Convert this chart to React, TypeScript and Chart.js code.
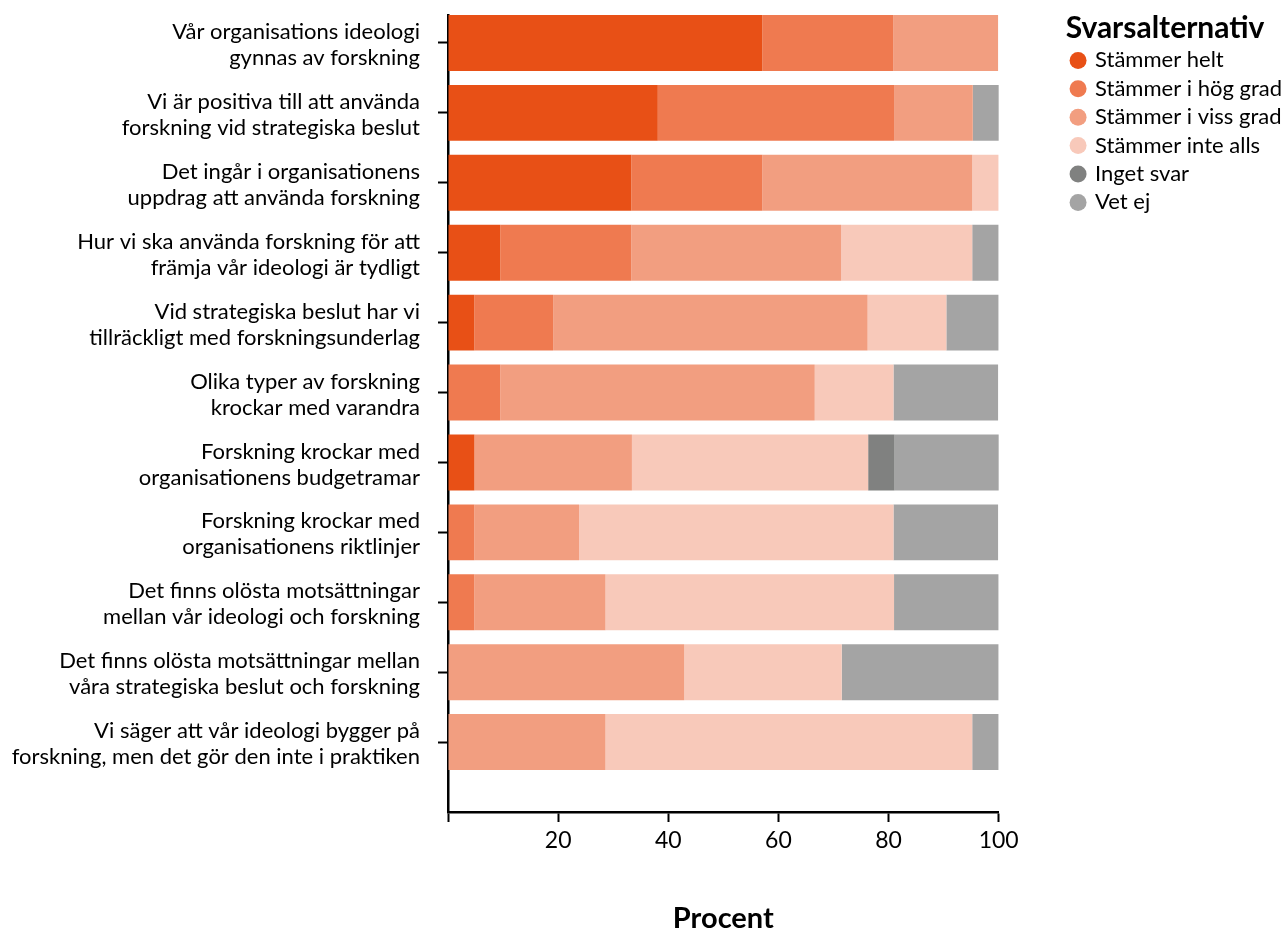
import React, { useEffect, useRef } from "react";
import { Chart, registerables } from "chart.js";

Chart.register(...registerables);

const categories: string[][] = [
  ["Vår organisations ideologi", "gynnas av forskning"],
  ["Vi är positiva till att använda", "forskning vid strategiska beslut"],
  ["Det ingår i organisationens", "uppdrag att använda forskning"],
  ["Hur vi ska använda forskning för att", "främja vår ideologi är tydligt"],
  ["Vid strategiska beslut har vi", "tillräckligt med forskningsunderlag"],
  ["Olika typer av forskning", "krockar med varandra"],
  ["Forskning krockar med", "organisationens budgetramar"],
  ["Forskning krockar med", "organisationens riktlinjer"],
  ["Det finns olösta motsättningar", "mellan vår ideologi och forskning"],
  ["Det finns olösta motsättningar mellan", "våra strategiska beslut och forskning"],
  ["Vi säger att vår ideologi bygger på", "forskning, men det gör den inte i praktiken"],
];

const seriesNames = [
  "Stämmer helt",
  "Stämmer i hög grad",
  "Stämmer i viss grad",
  "Stämmer inte alls",
  "Inget svar",
  "Vet ej",
];

const stammerHelt = [57.1, 38.1, 33.3, 9.5, 4.8, 0, 4.8, 0, 0, 0, 0];
const stammerHogGrad = [23.8, 42.9, 23.8, 23.8, 14.3, 9.5, 0, 4.8, 4.8, 0, 0];
const stammerVissGrad = [19.0, 14.3, 38.1, 38.1, 57.1, 57.1, 28.6, 19.0, 23.8, 42.9, 28.6];
const stammerInteAlls = [0, 0, 4.8, 23.8, 14.3, 14.3, 42.9, 57.1, 52.4, 28.6, 66.6];
const ingetSvar = [0, 0, 0, 0, 0, 0, 4.8, 0, 0, 0, 0];
const vetEj = [0, 4.8, 0, 4.8, 9.5, 19.0, 19.0, 19.0, 19.0, 28.5, 4.8];

const xTicks = [0, 20, 40, 60, 80, 100];

const colors = ["#E85016", "#EF7A50", "#F29E80", "#F8C9BA", "#808180", "#A4A4A4"];

const allSeries = [stammerHelt, stammerHogGrad, stammerVissGrad, stammerInteAlls, ingetSvar, vetEj];

const FONT = "Lato, 'Open Sans', sans-serif";

// widens the legend box a little so that its longest label is not clipped
const legendWiden = {
  id: "legendWiden",
  beforeLayout(chart: any) {
    const lg = chart.legend;
    if (lg && !lg.__widened) {
      const orig = lg.fit.bind(lg);
      lg.fit = () => {
        orig();
        lg.width += 6;
      };
      lg.__widened = true;
    }
  },
};

export default function App() {
  const ref = useRef<HTMLCanvasElement | null>(null);

  useEffect(() => {
    document.body.style.margin = "0";
    const canvas = ref.current;
    if (!canvas) return;
    const chart = new Chart(canvas, {
      type: "bar",
      plugins: [legendWiden],
      data: {
        datasets: allSeries.map((vals, si) => ({
          label: seriesNames[si],
          data: vals.map((v, i) => ({ x: v, y: i })),
          backgroundColor: colors[si],
          borderWidth: 0,
          barPercentage: 0.8,
          categoryPercentage: 1,
        })),
      },
      options: {
        indexAxis: "y",
        animation: false,
        responsive: false,
        maintainAspectRatio: false,
        layout: { padding: { top: 15, right: 0, left: 0, bottom: 0 } },
        scales: {
          x: {
            type: "linear",
            stacked: true,
            offset: false,
            min: 0,
            max: 100,
            afterBuildTicks: (scale: any) => {
              scale.ticks = xTicks.map((v) => ({ value: v }));
            },
            afterFit: (scale: any) => {
              scale.height = 117;
              scale.paddingLeft = 0;
              scale.paddingRight = 0;
            },
            ticks: {
              color: "#000",
              font: { family: FONT, size: 23 },
              padding: 5,
              maxRotation: 0,
              callback: (v: any) => (v === 0 ? "" : String(v)),
            },
            grid: {
              offset: false,
              drawOnChartArea: false,
              drawTicks: true,
              tickLength: 10,
              tickColor: "#000",
              tickWidth: 2,
            },
            border: { display: true, color: "#000", width: 2.5 },
            title: {
              display: true,
              text: "Procent",
              color: "#000",
              font: { family: FONT, size: 29, weight: "bold", lineHeight: 1 },
              padding: { top: 0, bottom: -4 },
            },
          },
          y: {
            type: "linear",
            stacked: true,
            reverse: true,
            offset: false,
            min: -0.4,
            max: 11,
            afterBuildTicks: (scale: any) => {
              scale.ticks = categories.map((_, i) => ({ value: i }));
            },
            afterFit: (scale: any) => {
              scale.width = 448;
              scale.paddingTop = 0;
              scale.paddingBottom = 0;
            },
            ticks: {
              color: "#000",
              font: { family: FONT, size: 22, lineHeight: 1.18 },
              padding: 18,
              labelOffset: 2,
              autoSkip: false,
              callback: (v: any) => categories[v] ?? "",
            },
            grid: {
              offset: false,
              drawOnChartArea: false,
              drawTicks: true,
              tickLength: 10,
              tickColor: "#000",
              tickWidth: 2,
            },
            border: { display: true, color: "#000", width: 2.5 },
          },
          gap: {
            type: "linear",
            axis: "y",
            position: "right",
            display: true,
            afterFit: (scale: any) => {
              scale.width = 67;
              scale.paddingTop = 0;
              scale.paddingBottom = 0;
            },
            ticks: { display: false },
            grid: { display: false, drawTicks: false },
            border: { display: false },
          },
        },
        plugins: {
          tooltip: { enabled: false },
          legend: {
            display: true,
            position: "right",
            align: "start",
            title: {
              display: true,
              position: "start",
              text: "Svarsalternativ",
              color: "#000",
              font: { family: FONT, size: 30, weight: "bold", lineHeight: 1.1 },
              padding: { top: -2, bottom: -3 },
            },
            labels: {
              color: "#000",
              font: { family: FONT, size: 22 },
              usePointStyle: true,
              pointStyle: "circle",
              boxWidth: 12,
              boxHeight: 12,
              padding: 6.4,
            },
          },
        },
      },
    });
    return () => chart.destroy();
  }, []);

  return (
    <div style={{ width: 1286, height: 929 }}>
      <canvas ref={ref} width={1286} height={929} style={{ width: 1286, height: 929 }} />
    </div>
  );
}
